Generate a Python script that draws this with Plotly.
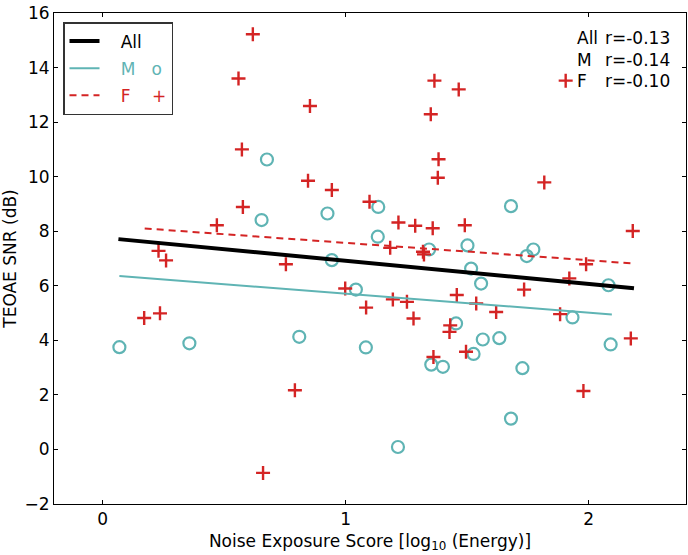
import plotly.graph_objects as go

# ---- data ----
m_x = [0.069, 0.357, 0.676, 0.654, 0.925, 1.134, 1.132, 0.943, 1.042, 0.809, 1.083,
       1.680, 1.501, 1.343, 1.772, 1.745, 1.516, 1.557, 2.081, 1.933, 1.454, 1.564,
       1.632, 2.090, 1.526, 1.352, 1.400, 1.727, 1.680, 1.215]
m_y = [3.75, 3.89, 10.63, 8.41, 8.65, 8.89, 7.80, 6.94, 5.86, 4.13, 3.74,
       8.92, 7.48, 7.33, 7.33, 7.09, 6.63, 6.08, 6.02, 4.84, 4.62, 4.03,
       4.08, 3.85, 3.50, 3.11, 3.03, 2.98, 1.13, 0.09]

f_x = [0.618, 0.559, 0.853, 0.573, 0.845, 0.943, 1.098, 0.577, 0.470, 0.230, 0.261,
       0.754, 0.998, 1.084, 0.171, 0.236, 0.791, 0.660,
       1.365, 1.465, 1.350, 1.905, 1.382, 1.379, 1.817, 1.217, 1.286, 1.358, 1.490,
       2.181, 1.183, 1.318, 1.322,
       1.989, 1.920, 1.734, 1.457, 1.194, 1.252, 1.537, 1.619, 1.882, 1.279, 1.430,
       1.427, 2.173, 1.495, 1.361, 1.978]
f_y = [15.22, 13.60, 12.59, 11.00, 9.85, 9.51, 9.08, 8.89, 8.22, 7.28, 6.93,
       6.79, 5.90, 5.20, 4.82, 4.99, 2.17, -0.86,
       13.52, 13.20, 12.29, 13.52, 10.64, 9.96, 9.79, 8.32, 8.20, 8.11, 8.22,
       8.01, 7.39, 7.25, 7.15,
       6.79, 6.27, 5.86, 5.66, 5.50, 5.41, 5.35, 5.04, 4.96, 4.80, 4.55,
       4.31, 4.07, 3.58, 3.39, 2.14]

# regression line endpoints
fit_all_x = [0.065, 2.186]
fit_all_y = [7.71, 5.91]
fit_m_x = [0.069, 2.095]
fit_m_y = [6.36, 4.95]
fit_f_x = [0.173, 2.181]
fit_f_y = [8.10, 6.82]

r_labels = ["All", "M", "F"]
r_values = ["r=-0.13", "r=-0.14", "r=-0.10"]

x_ticks = [0, 1, 2]
y_ticks = [-2, 0, 2, 4, 6, 8, 10, 12, 14, 16]

TEAL = "#5fb4b4"
RED = "#d42424"
FONT = "DejaVu Sans"
NB = "\u00a0"

fig = go.Figure()

fig.add_trace(go.Scatter(x=m_x, y=m_y, mode="markers", showlegend=False,
                         marker=dict(symbol="circle-open", size=12, color=TEAL,
                                     line=dict(width=2.2, color=TEAL)),
                         hoverinfo="skip"))
fig.add_trace(go.Scatter(x=f_x, y=f_y, mode="markers", showlegend=False,
                         marker=dict(symbol="cross-thin-open", size=10, color=RED,
                                     line=dict(width=2.4, color=RED)),
                         hoverinfo="skip"))

fig.add_trace(go.Scatter(x=fit_all_x, y=fit_all_y, mode="lines", legendgroup="a",
                         name=NB * 3 + "All", line=dict(color="black", width=4)))
fig.add_trace(go.Scatter(x=fit_m_x, y=fit_m_y, mode="lines", legendgroup="b",
                         name=f"<span style='color:{TEAL}'>{NB*3}M{NB*3}o</span>",
                         line=dict(color=TEAL, width=2)))
fig.add_trace(go.Scatter(x=fit_f_x, y=fit_f_y, mode="lines", legendgroup="c",
                         name=f"<span style='color:{RED}'>{NB*3}F{NB*4}+</span>",
                         line=dict(color=RED, width=2, dash="7px,5px")))

# correlation text (top right)
for i, (lab, val) in enumerate(zip(r_labels, r_values)):
    yc = 38.3 + i * 21.4
    yp = 1 - (yc - 13) / 491
    fig.add_annotation(xref="paper", yref="paper", x=(576 - 54) / 632, y=yp,
                       xanchor="left", yanchor="middle", text=lab, showarrow=False,
                       font=dict(family=FONT, size=17, color="black"), borderpad=0)
    fig.add_annotation(xref="paper", yref="paper", x=(604 - 54) / 632, y=yp,
                       xanchor="left", yanchor="middle", text=val, showarrow=False,
                       font=dict(family=FONT, size=17, color="black"), borderpad=0)

axis_common = dict(showline=True, linecolor="black", linewidth=1, mirror="ticks",
                   ticks="inside", ticklen=4, tickcolor="black", showgrid=False,
                   zeroline=False, automargin=False,
                   tickfont=dict(family=FONT, size=17, color="black"))

fig.update_xaxes(range=[-0.2, 2.4], tickvals=x_ticks,
                 title=dict(text="Noise Exposure Score [log<sub>10</sub> (Energy)]",
                            font=dict(family=FONT, size=17, color="black"), standoff=6),
                 **axis_common)
fig.update_yaxes(range=[-2, 16], tickvals=y_ticks,
                 ticktext=[("\u2212" + str(-v)) if v < 0 else str(v) for v in y_ticks],
                 title=dict(text="TEOAE SNR (dB)",
                            font=dict(family=FONT, size=17, color="black"), standoff=6),
                 **axis_common)

fig.update_layout(
    width=688, height=555,
    margin=dict(l=54, r=2, t=13, b=51),
    plot_bgcolor="white", paper_bgcolor="white",
    font=dict(family=FONT, size=17, color="black"),
    legend=dict(x=(63 - 54) / 632, y=1 - (22 - 13) / 491, xanchor="left", yanchor="top",
                bgcolor="white", bordercolor="#333333", borderwidth=1.5,
                font=dict(family=FONT, size=17), tracegroupgap=2, itemwidth=30),
)

fig.write_html("out.html", config={"displayModeBar": False},
               post_script="document.body.style.margin='0';document.body.style.overflow='hidden';")
